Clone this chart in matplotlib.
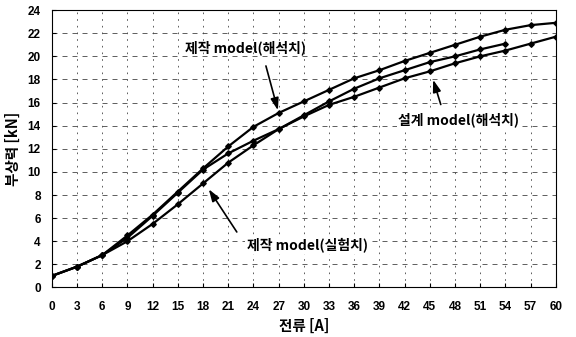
import matplotlib
matplotlib.use("Agg")
from matplotlib import pyplot as plt

plt.rcParams['font.family'] = ['Noto Sans CJK KR', 'DejaVu Sans']

current = list(range(0, 61, 3))

# 제작 model (해석치)
force_make_fem = [1.0, 1.8, 2.8, 4.5, 6.3, 8.3, 10.3, 12.2, 13.9, 15.1, 16.1,
                  17.1, 18.1, 18.8, 19.6, 20.3, 21.0, 21.7, 22.3, 22.7, 22.9]
# 설계 model (해석치)
force_design_fem = [1.0, 1.8, 2.8, 4.3, 6.2, 8.2, 10.2, 11.6, 12.7, 13.7, 14.8,
                    15.8, 16.5, 17.3, 18.1, 18.7, 19.4, 20.0, 20.5, 21.1, 21.7]
# 제작 model (실험치), measured up to 54 A
current_exp = list(range(0, 55, 3))
force_make_exp = [1.0, 1.8, 2.8, 4.0, 5.5, 7.2, 9.0, 10.8, 12.3, 13.7, 14.9,
                  16.1, 17.2, 18.1, 18.8, 19.5, 20.0, 20.6, 21.1]

fig = plt.figure(figsize=(5.76, 3.37), dpi=100)
ax = fig.add_axes([0.090, 0.147, 0.875, 0.823])

style = dict(color='black', lw=1.6, marker='D', ms=2.8, mfc='black', mec='black')
ax.plot(current, force_make_fem, **style)
ax.plot(current, force_design_fem, **style)
ax.plot(current_exp, force_make_exp, **style)

ax.set_xlim(0, 60)
ax.set_ylim(0, 24)
ax.set_xticks(range(0, 61, 3))
ax.set_yticks(range(0, 25, 2))
ax.tick_params(direction='in', length=3, width=0.8, labelsize=8.5)
ax.tick_params(axis='x', pad=10)
ax.tick_params(axis='y', pad=8)
for lab in ax.get_xticklabels() + ax.get_yticklabels():
    lab.set_fontweight('bold')
    lab.set_family(['Liberation Sans', 'DejaVu Sans'])

ax.xaxis.grid(True, color='#444444', lw=0.6, ls=(0, (2, 6)))
ax.yaxis.grid(True, color='#444444', lw=0.6, ls=(0, (6, 6)))
for sp in ax.spines.values():
    sp.set_linewidth(0.8)

ax.set_xlabel('전류 [A]', fontsize=10.5, fontweight='bold', labelpad=3)
ax.set_ylabel('부상력 [kN]', fontsize=10.5, fontweight='bold', labelpad=5)

arrow = dict(arrowstyle='-|>,head_length=0.6,head_width=0.2', color='black',
             lw=1.2, mutation_scale=12)

ax.text(23.0, 20.7, '제작 model(해석치)', fontsize=10, fontweight='bold',
        ha='center', va='center')
ax.annotate('', xy=(27, 15.1), xytext=(25.4, 19.4), arrowprops=arrow)

ax.text(48.4, 14.5, '설계 model(해석치)', fontsize=10, fontweight='bold',
        ha='center', va='center',
        bbox=dict(facecolor='white', edgecolor='none', pad=1))
ax.annotate('', xy=(45.3, 18.2), xytext=(46.4, 15.6), arrowprops=arrow)

ax.text(30.4, 3.7, '제작 model(실험치)', fontsize=10, fontweight='bold',
        ha='center', va='center',
        bbox=dict(facecolor='white', edgecolor='none', pad=1))
ax.annotate('', xy=(18.5, 8.7), xytext=(22.2, 4.6), arrowprops=arrow)

plt.savefig('out.png', dpi=100)
